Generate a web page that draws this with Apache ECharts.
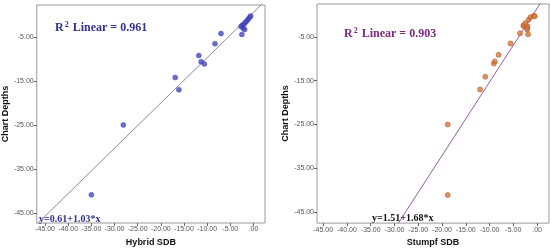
<!DOCTYPE html>
<html>
<head>
<meta charset="utf-8">
<script src="https://cdn.jsdelivr.net/npm/echarts@6/dist/echarts.min.js"></script>
<style>
  html, body { margin: 0; padding: 0; background: #fff; }
  #main { width: 550px; height: 252px; }
</style>
</head>
<body>
<div id="main"></div>
<script>
// values
var hybridX = [-35.0, -28.1, -16.9, -16.1, -11.8, -11.3, -10.6, -8.3, -7.0, -2.5,
  -2.7, -2.4, -2.2, -1.9, -2.0, -1.7, -1.4, -1.1, -0.8, -0.6];
var hybridY = [-40.9, -25.0, -14.2, -17.0, -9.2, -10.6, -11.1, -6.5, -4.2, -4.4,
  -2.6, -2.3, -3.0, -3.3, -2.0, -1.6, -1.3, -0.9, -0.5, -0.2];
var stumpfX = [-18.8, -18.8, -12.0, -10.9, -9.1, -8.9, -8.1, -5.6, -3.6, -1.9,
  -2.9, -2.8, -2.45, -2.1, -2.0, -2.1, -1.8, -1.4, -0.7, -0.5];
var stumpfY = [-41.1, -25.0, -17.0, -14.1, -11.1, -10.6, -9.1, -6.5, -4.2, -4.4,
  -2.5, -2.3, -1.9, -3.0, -2.6, -3.3, -1.1, -0.5, -0.2, -0.3];
var xTicks = [-45, -40, -35, -30, -25, -20, -15, -10, -5, 0];
var yTicks = [-45, -35, -25, -15, -5];
var hybridFit = { a: 0.61, b: 1.03, r2: 0.961 };
var stumpfFit = { a: 1.51, b: 1.68, r2: 0.903 };

var chart = echarts.init(document.getElementById('main'));

function pairs(xs, ys) {
  return xs.map(function (x, i) { return [x, ys[i]]; });
}
function fitLine(fit, x0, x1) {
  return [[x0, fit.a + fit.b * x0], [x1, fit.a + fit.b * x1]];
}
function fmt(v) {
  return v === 0 ? '.00' : v.toFixed(2);
}

var tickLabel = { fontSize: 7, color: '#555', fontFamily: 'Liberation Sans', margin: 3, formatter: fmt };
var titleFont = { fontSize: 9, fontWeight: 'bold', color: '#111', fontFamily: 'Liberation Sans' };

function xAxis(idx, name, min, max) {
  return {
    type: 'value', gridIndex: idx, min: min, max: max,
    name: name, nameLocation: 'middle', nameGap: 13, nameTextStyle: titleFont,
    axisLine: { show: false, onZero: false }, splitLine: { show: false },
    axisTick: { show: true, length: 3, lineStyle: { color: '#666' }, customValues: xTicks },
    axisLabel: Object.assign({ customValues: xTicks }, tickLabel)
  };
}
function yAxis(idx, min, max) {
  return {
    type: 'value', gridIndex: idx, min: min, max: max,
    name: 'Chart Depths', nameLocation: 'middle', nameGap: 24, nameRotate: 90, nameTextStyle: titleFont,
    axisLine: { show: false, onZero: false }, splitLine: { show: false },
    axisTick: { show: true, length: 3, lineStyle: { color: '#666' }, customValues: yTicks },
    axisLabel: Object.assign({ customValues: yTicks }, tickLabel)
  };
}

chart.setOption({
  animation: false,
  grid: [
    { left: 34, top: 5, width: 231, height: 218, show: true, borderColor: '#999', borderWidth: 1 },
    { left: 317, top: 4, width: 232, height: 221, show: true, borderColor: '#999', borderWidth: 1 }
  ],
  xAxis: [xAxis(0, 'Hybrid SDB', -46.8, 2.5), xAxis(1, 'Stumpf SDB', -46.3, 2.5)],
  yAxis: [yAxis(0, -47.3, 2.3), yAxis(1, -47.5, 2.5)],
  series: [
    {
      type: 'line', xAxisIndex: 0, yAxisIndex: 0, data: fitLine(hybridFit, -47, 3),
      showSymbol: false, clip: true, lineStyle: { color: '#8a88a8', width: 1 }, z: 1
    },
    {
      type: 'scatter', xAxisIndex: 0, yAxisIndex: 0, data: pairs(hybridX, hybridY),
      symbolSize: 5, itemStyle: { color: '#4848c4', borderColor: '#3434a8', borderWidth: 0.5 }, z: 3
    },
    {
      type: 'line', xAxisIndex: 1, yAxisIndex: 1, data: fitLine(stumpfFit, -30, 1),
      showSymbol: false, clip: true, lineStyle: { color: '#9a5aa8', width: 1 }, z: 1
    },
    {
      type: 'scatter', xAxisIndex: 1, yAxisIndex: 1, data: pairs(stumpfX, stumpfY),
      symbolSize: 5, itemStyle: { color: '#d9773a', borderColor: '#a85a2a', borderWidth: 0.7 }, z: 3
    }
  ],
  graphic: [
    {
      type: 'text', left: 55, top: 21,
      style: {
        text: '{b|R}{s|2}{b| Linear = ' + hybridFit.r2.toFixed(3) + '}',
        rich: {
          b: { fontSize: 12, fontWeight: 'bold', fontFamily: 'Liberation Serif', fill: '#323290' },
          s: { fontSize: 8, fontWeight: 'bold', fontFamily: 'Liberation Serif', fill: '#323290', verticalAlign: 'top', padding: [0, 1, 6, 1] }
        }
      }
    },
    {
      type: 'text', left: 344, top: 27,
      style: {
        text: '{b|R}{s|2}{b| Linear = ' + stumpfFit.r2.toFixed(3) + '}',
        rich: {
          b: { fontSize: 12, fontWeight: 'bold', fontFamily: 'Liberation Serif', fill: '#7a2a7e' },
          s: { fontSize: 8, fontWeight: 'bold', fontFamily: 'Liberation Serif', fill: '#7a2a7e', verticalAlign: 'top', padding: [0, 1, 6, 1] }
        }
      }
    },
    {
      type: 'text', left: 39, top: 214,
      style: {
        text: 'y=' + hybridFit.a.toFixed(2) + '+' + hybridFit.b.toFixed(2) + '*x',
        fontSize: 10, fontWeight: 'bold', fontFamily: 'Liberation Serif', fill: '#323290'
      }
    },
    {
      type: 'text', left: 372, top: 213,
      style: {
        text: 'y=' + stumpfFit.a.toFixed(2) + '+' + stumpfFit.b.toFixed(2) + '*x',
        fontSize: 10, fontWeight: 'bold', fontFamily: 'Liberation Serif', fill: '#111'
      }
    }
  ]
});
</script>
</body>
</html>
